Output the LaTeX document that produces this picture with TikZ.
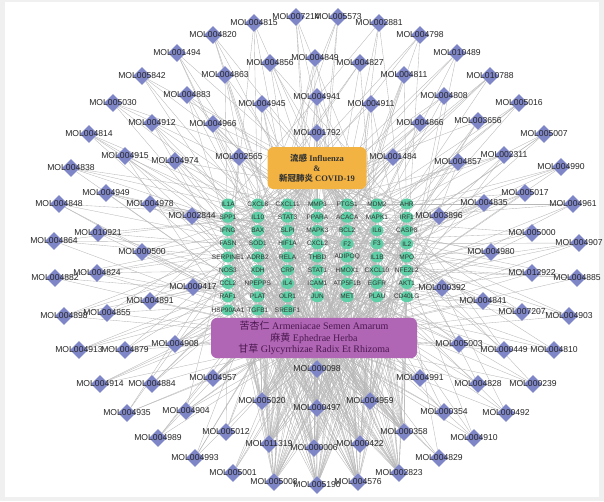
\documentclass[tikz,border=0pt]{standalone}
\usepackage{fontspec}
\setmainfont{Liberation Serif}
\setsansfont{Liberation Sans}
\newfontfamily\cjk{Noto Sans CJK SC}
\usetikzlibrary{shapes.geometric,backgrounds}
\definecolor{molblue}{HTML}{7F86C8}
\definecolor{tgtgreen}{HTML}{5ECFA6}
\definecolor{fluorange}{HTML}{F2B342}
\definecolor{herbpurple}{HTML}{B066B4}
\definecolor{herbtext}{HTML}{4B1850}
\definecolor{edgegray}{HTML}{B8B8B8}
\begin{document}
\begin{tikzpicture}[x=1pt,y=-1pt,
  mol/.style={diamond, fill=molblue, minimum size=18pt, inner sep=0pt},
  mollabel/.style={font=\sffamily\fontsize{8.6}{9}\selectfont, text=black!85, inner sep=0pt},
  tgt/.style={ellipse, fill=tgtgreen, minimum width=13pt, minimum height=11pt, inner sep=0pt},
  tgtlabel/.style={font=\sffamily\fontsize{6.5}{7}\selectfont, text=black!80, inner sep=0pt},
  edge/.style={draw=edgegray, line width=0.35pt},
  fluhub/.style={rectangle, rounded corners=6pt, fill=fluorange, minimum width=99pt,
    minimum height=42pt, align=center, text=black!80, font=\bfseries\fontsize{8.5}{10}\selectfont},
  herbhub/.style={rectangle, rounded corners=6pt, fill=herbpurple, minimum width=206pt,
    minimum height=36pt, align=center, text=herbtext, font=\fontsize{10}{11.5}\selectfont}]
\useasboundingbox (0,0) rectangle (604,501);
\begin{scope}[on background layer]
\fill[black!6] (0,0) rectangle (604,501);
\fill[white] (5,2) rectangle (599,497);
\end{scope}

% hubs
\node[fluhub] (flu) at (317,168) {{\cjk 流感} Influenza\\\&\\{\cjk 新冠肺炎} COVID-19};
\node[herbhub] (herb) at (314,338) {{\cjk 苦杏仁} Armeniacae Semen Amarum\\{\cjk 麻黄} Ephedrae Herba\\{\cjk 甘草} Glycyrrhizae Radix Et Rhizoma};

% targets
\foreach \g [count=\i from 0] in {IL1A,CXCL8,CXCL11,MMP3,PTGS1,MDM2,AHR,
  SPP1,IL10,STAT3,PPARA,ACACA,MAPK1,IRF1,
  IFNG,BAX,SLPI,MAPK3,BCL2,IL6,CASP8,
  FASN,SOD1,HIF1A,CXCL2,F2,F3,IL2,
  SERPINE1,ADRB2,RELA,THBD,ADIPOQ,IL1B,MPO,
  NOS3,XDH,CRP,STAT1,HMOX1,CXCL10,NFE2L2,
  CCL2,NPEPPS,IL4,ICAM1,ATP5F1B,EGFR,AKT1,
  RAF1,PLAT,OLR1,JUN,MET,PLAU,CD40LG,
  HSP90AA1,TGFB1,SREBF1} {
  \pgfmathtruncatemacro\r{floor(\i/7)}
  \pgfmathtruncatemacro\c{mod(\i,7)}
  \node[tgt, alias=t\i, label={[tgtlabel]center:\g}] (\g) at ({228+29.8*\c},{204+13.25*\r}) {};
  \begin{pgfonlayer}{background}
    \draw[edge] (flu) -- (t\i);
  \end{pgfonlayer}
}

% compounds
\foreach \n/\x/\y [count=\i] in {MOL004815/254/23, MOL007214/296/17, MOL005573/338/17,
  MOL002881/379/23, MOL004820/213/35, MOL004798/420/35, MOL001494/177/53,
  MOL010489/457/53, MOL004856/270/63, MOL004849/315/58, MOL004827/360/63,
  MOL005842/142/76, MOL004863/225/75, MOL004811/404/75, MOL010788/490/76,
  MOL004883/187/95, MOL004941/317/97, MOL004808/444/96, MOL005030/113/103,
  MOL004945/262/104, MOL004911/371/104, MOL005016/519/103, MOL004912/152/123,
  MOL004966/213/124, MOL004866/420/123, MOL003656/478/121, MOL001792/317/133,
  MOL004814/89/134, MOL005007/544/134, MOL004915/125/156, MOL002565/239/157,
  MOL001484/393/157, MOL002311/504/155, MOL004974/175/161, MOL004857/458/162,
  MOL004838/71/168, MOL004990/561/167, MOL004949/106/193, MOL005017/525/193,
  MOL004848/59/204, MOL004978/150/204, MOL004835/484/203, MOL004961/573/204,
  MOL002844/192/216, MOL003896/439/216, MOL010921/98/233, MOL005000/532/233,
  MOL004864/54/241, MOL004907/579/243, MOL000500/142/252, MOL004980/491/252,
  MOL004824/97/273, MOL012922/532/273, MOL004882/55/278, MOL004885/577/278,
  MOL000417/193/287, MOL000392/442/288, MOL004891/150/301, MOL004841/483/301,
  MOL004855/107/313, MOL007207/522/312, MOL004898/64/316, MOL004903/569/316,
  MOL004908/175/344, MOL005003/459/344, MOL004913/79/350, MOL004879/125/350,
  MOL000449/504/350, MOL004810/554/350, MOL000098/317/369, MOL004957/213/378,
  MOL004991/420/378, MOL004914/100/384, MOL004884/152/384, MOL004828/478/384,
  MOL000239/533/384, MOL005020/262/401, MOL004959/370/401, MOL000497/317/408,
  MOL004904/186/411, MOL000354/444/412, MOL004935/127/413, MOL000492/506/413,
  MOL005012/226/432, MOL000358/404/432, MOL004989/158/438, MOL004910/474/438,
  MOL011319/269/444, MOL000422/360/444, MOL000006/314/448, MOL004993/195/458,
  MOL004829/439/458, MOL005001/233/473, MOL002823/399/473, MOL005008/274/482,
  MOL004576/358/482, MOL005190/317/485} {
  \node[mol, label={[mollabel]center:\n}] (\n) at (\x,\y) {};
  \pgfmathtruncatemacro\k{max(3,10-veclen(\x-317,\y-262)/28)}
  \begin{pgfonlayer}{background}
    \draw[edge] (herb) -- (\n);
    \foreach \j in {1,...,\k} {
      \pgfmathtruncatemacro\t{mod(\i*17+\j*\j*7+\j*11,59)}
      \draw[edge] (\n) -- (t\t);
    }
  \end{pgfonlayer}
}

% compounds with many targets
\begin{scope}[on background layer]
\foreach \m/\s in {MOL000098/0, MOL000006/1, MOL000422/2, MOL000497/3, MOL005190/4,
  MOL004576/5, MOL000358/6, MOL004959/7, MOL002823/8, MOL011319/9, MOL005020/10,
  MOL005008/11}
  \foreach \j in {0,...,19} {
    \pgfmathtruncatemacro\t{mod(\s*5+\j*3,59)}
    \draw[edge] (\m) -- (t\t);
  }
\end{scope}
\end{tikzpicture}
\end{document}
